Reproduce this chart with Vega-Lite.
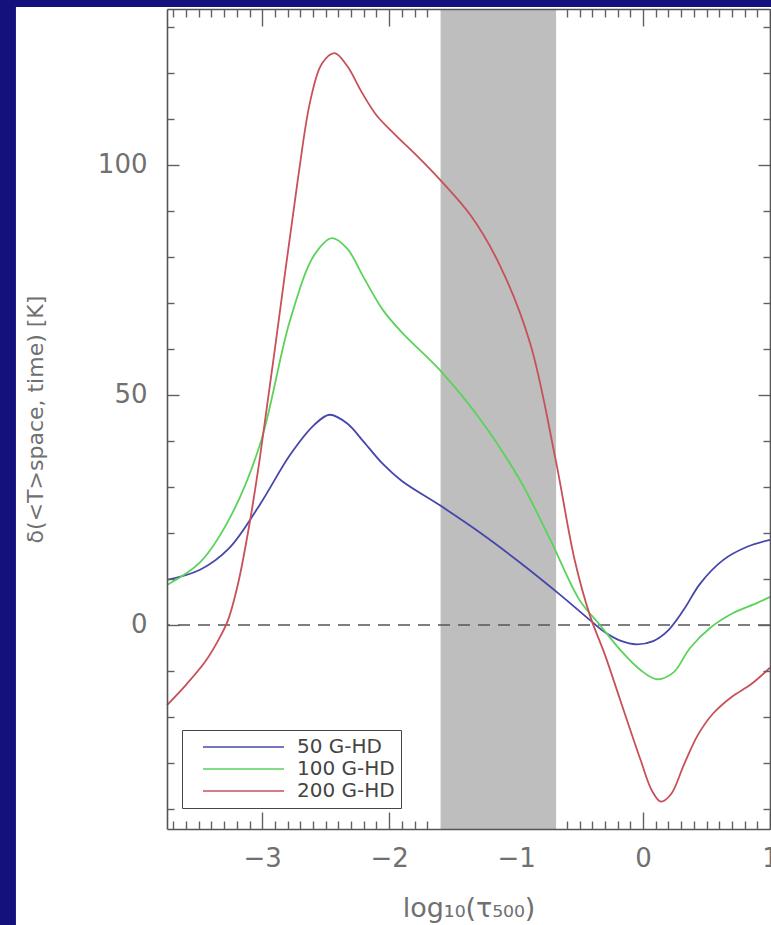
{
  "$schema": "https://vega.github.io/schema/vega-lite/v6.json",
  "autosize": {"type": "none"},
  "padding": {"left": 167, "top": 9, "right": 1, "bottom": 96},
  "width": 603,
  "height": 820,
  "background": "#14117c",
  "config": {
    "view": {"stroke": null},
    "axis": {"grid": false, "labelFont": "DejaVu Sans", "titleFont": "DejaVu Sans", "labelColor": "#707070", "titleColor": "#707070", "titleFontWeight": "normal", "domainColor": "#555555", "tickColor": "#606060", "domainWidth": 1.6, "tickWidth": 1.4, "labelFlush": false, "labelOverlap": false, "labelBound": false}
  },
  "datasets": {
    "curves": [
      {"x": -3.75, "dT": 9.8, "series": "50 G-HD"},
      {"x": -3.49, "dT": 12.0, "series": "50 G-HD"},
      {"x": -3.26, "dT": 16.7, "series": "50 G-HD"},
      {"x": -3.02, "dT": 26.1, "series": "50 G-HD"},
      {"x": -2.78, "dT": 37.0, "series": "50 G-HD"},
      {"x": -2.59, "dT": 43.5, "series": "50 G-HD"},
      {"x": -2.47, "dT": 45.7, "series": "50 G-HD"},
      {"x": -2.33, "dT": 43.8, "series": "50 G-HD"},
      {"x": -2.20, "dT": 39.8, "series": "50 G-HD"},
      {"x": -2.05, "dT": 35.0, "series": "50 G-HD"},
      {"x": -1.90, "dT": 31.3, "series": "50 G-HD"},
      {"x": -1.60, "dT": 26.0, "series": "50 G-HD"},
      {"x": -1.28, "dT": 20.0, "series": "50 G-HD"},
      {"x": -0.97, "dT": 13.6, "series": "50 G-HD"},
      {"x": -0.65, "dT": 6.5, "series": "50 G-HD"},
      {"x": -0.42, "dT": 1.1, "series": "50 G-HD"},
      {"x": -0.30, "dT": -1.6, "series": "50 G-HD"},
      {"x": -0.18, "dT": -3.4, "series": "50 G-HD"},
      {"x": -0.05, "dT": -4.2, "series": "50 G-HD"},
      {"x": 0.08, "dT": -3.5, "series": "50 G-HD"},
      {"x": 0.19, "dT": -1.4, "series": "50 G-HD"},
      {"x": 0.32, "dT": 3.3, "series": "50 G-HD"},
      {"x": 0.45, "dT": 9.0, "series": "50 G-HD"},
      {"x": 0.63, "dT": 14.1, "series": "50 G-HD"},
      {"x": 0.82, "dT": 17.0, "series": "50 G-HD"},
      {"x": 1.0, "dT": 18.5, "series": "50 G-HD"},
      {"x": -3.75, "dT": 8.7, "series": "100 G-HD"},
      {"x": -3.49, "dT": 13.6, "series": "100 G-HD"},
      {"x": -3.26, "dT": 23.0, "series": "100 G-HD"},
      {"x": -3.02, "dT": 39.0, "series": "100 G-HD"},
      {"x": -2.78, "dT": 66.3, "series": "100 G-HD"},
      {"x": -2.59, "dT": 80.4, "series": "100 G-HD"},
      {"x": -2.45, "dT": 84.1, "series": "100 G-HD"},
      {"x": -2.33, "dT": 81.8, "series": "100 G-HD"},
      {"x": -2.20, "dT": 75.5, "series": "100 G-HD"},
      {"x": -2.05, "dT": 68.5, "series": "100 G-HD"},
      {"x": -1.90, "dT": 63.6, "series": "100 G-HD"},
      {"x": -1.60, "dT": 55.4, "series": "100 G-HD"},
      {"x": -1.28, "dT": 44.6, "series": "100 G-HD"},
      {"x": -0.97, "dT": 31.5, "series": "100 G-HD"},
      {"x": -0.73, "dT": 18.5, "series": "100 G-HD"},
      {"x": -0.50, "dT": 5.4, "series": "100 G-HD"},
      {"x": -0.34, "dT": 0.0, "series": "100 G-HD"},
      {"x": -0.18, "dT": -5.4, "series": "100 G-HD"},
      {"x": -0.02, "dT": -9.8, "series": "100 G-HD"},
      {"x": 0.11, "dT": -11.8, "series": "100 G-HD"},
      {"x": 0.24, "dT": -10.3, "series": "100 G-HD"},
      {"x": 0.37, "dT": -5.0, "series": "100 G-HD"},
      {"x": 0.53, "dT": -0.6, "series": "100 G-HD"},
      {"x": 0.71, "dT": 2.6, "series": "100 G-HD"},
      {"x": 0.90, "dT": 4.8, "series": "100 G-HD"},
      {"x": 1.0, "dT": 6.1, "series": "100 G-HD"},
      {"x": -3.75, "dT": -17.4, "series": "200 G-HD"},
      {"x": -3.60, "dT": -13.0, "series": "200 G-HD"},
      {"x": -3.45, "dT": -8.0, "series": "200 G-HD"},
      {"x": -3.35, "dT": -3.5, "series": "200 G-HD"},
      {"x": -3.27, "dT": 1.0, "series": "200 G-HD"},
      {"x": -3.19, "dT": 9.0, "series": "200 G-HD"},
      {"x": -3.10, "dT": 22.0, "series": "200 G-HD"},
      {"x": -3.02, "dT": 36.0, "series": "200 G-HD"},
      {"x": -2.90, "dT": 60.0, "series": "200 G-HD"},
      {"x": -2.72, "dT": 96.7, "series": "200 G-HD"},
      {"x": -2.62, "dT": 114.1, "series": "200 G-HD"},
      {"x": -2.53, "dT": 122.0, "series": "200 G-HD"},
      {"x": -2.43, "dT": 124.3, "series": "200 G-HD"},
      {"x": -2.33, "dT": 121.5, "series": "200 G-HD"},
      {"x": -2.22, "dT": 116.0, "series": "200 G-HD"},
      {"x": -2.10, "dT": 110.8, "series": "200 G-HD"},
      {"x": -1.95, "dT": 106.5, "series": "200 G-HD"},
      {"x": -1.80, "dT": 102.5, "series": "200 G-HD"},
      {"x": -1.60, "dT": 96.8, "series": "200 G-HD"},
      {"x": -1.36, "dT": 89.1, "series": "200 G-HD"},
      {"x": -1.13, "dT": 78.3, "series": "200 G-HD"},
      {"x": -0.89, "dT": 61.3, "series": "200 G-HD"},
      {"x": -0.69, "dT": 36.1, "series": "200 G-HD"},
      {"x": -0.54, "dT": 14.3, "series": "200 G-HD"},
      {"x": -0.42, "dT": 2.2, "series": "200 G-HD"},
      {"x": -0.30, "dT": -6.5, "series": "200 G-HD"},
      {"x": -0.18, "dT": -16.3, "series": "200 G-HD"},
      {"x": -0.02, "dT": -29.3, "series": "200 G-HD"},
      {"x": 0.07, "dT": -36.0, "series": "200 G-HD"},
      {"x": 0.14, "dT": -38.4, "series": "200 G-HD"},
      {"x": 0.22, "dT": -36.8, "series": "200 G-HD"},
      {"x": 0.32, "dT": -30.5, "series": "200 G-HD"},
      {"x": 0.43, "dT": -24.0, "series": "200 G-HD"},
      {"x": 0.55, "dT": -19.3, "series": "200 G-HD"},
      {"x": 0.70, "dT": -15.6, "series": "200 G-HD"},
      {"x": 0.85, "dT": -12.9, "series": "200 G-HD"},
      {"x": 1.0, "dT": -9.3, "series": "200 G-HD"}
    ],
    "band": [{"from": -1.595, "to": -0.685}],
    "one": [{}]
  },
  "resolve": {"scale": {"x": "independent", "y": "independent", "color": "independent"}},
  "layer": [
    {
      "data": {"name": "one"},
      "mark": {"type": "rect", "fill": "white", "clip": false},
      "encoding": {
        "x": {"datum": -4.94, "type": "quantitative", "scale": {"domain": [-3.75, 1.0], "nice": false, "zero": false}, "axis": null},
        "x2": {"datum": 1.5},
        "y": {"datum": 134.35, "type": "quantitative", "scale": {"domain": [-44.35, 133.9], "nice": false, "zero": false}, "axis": null},
        "y2": {"datum": -90}
      }
    },
    {
      "data": {"name": "band"},
      "mark": {"type": "rect", "fill": "#bebebe"},
      "encoding": {
        "x": {"field": "from", "type": "quantitative", "scale": {"domain": [-3.75, 1.0], "nice": false, "zero": false}, "axis": null},
        "x2": {"field": "to"}
      }
    },
    {
      "data": {"name": "one"},
      "mark": {"type": "rule", "color": "#555555", "strokeWidth": 1.6, "strokeDash": [12, 8]},
      "encoding": {
        "y": {"datum": 0, "type": "quantitative", "scale": {"domain": [-44.35, 133.9], "nice": false, "zero": false}, "axis": null}
      }
    },
    {
      "data": {"name": "curves"},
      "mark": {"type": "line", "interpolate": "catmull-rom", "strokeWidth": 1.8},
      "encoding": {
        "x": {"field": "x", "type": "quantitative", "scale": {"domain": [-3.75, 1.0], "nice": false, "zero": false},
          "axis": {"orient": "bottom", "zindex": 1, "values": [-3, -2, -1, 0, 1], "format": "d", "ticks": false, "domain": true, "labelFontSize": 26, "labelPadding": 16, "title": "log₁₀(τ₅₀₀)", "titleFontSize": 27, "titlePadding": 24}},
        "y": {"field": "dT", "type": "quantitative", "scale": {"domain": [-44.35, 133.9], "nice": false, "zero": false},
          "axis": {"orient": "left", "zindex": 1, "values": [0, 50, 100], "format": "d", "ticks": false, "domain": true, "labelFontSize": 26, "labelPadding": 20, "title": "δ(<T>space, time) [K]", "titleFontSize": 22, "titlePadding": 50}},
        "color": {"field": "series", "type": "nominal",
          "scale": {"domain": ["50 G-HD", "100 G-HD", "200 G-HD"], "range": ["#4646ac", "#5ad35a", "#c8505a"]},
          "legend": {"orient": "none", "legendX": 15, "legendY": 721, "title": null, "strokeColor": "#444444", "fillColor": "white", "padding": 6, "symbolType": "stroke", "symbolSize": 6561, "symbolStrokeWidth": 1.6, "symbolOffset": 14, "labelOffset": 12, "clipHeight": 22, "rowPadding": 0, "labelFont": "DejaVu Sans", "labelFontSize": 20, "labelColor": "#444444", "cornerRadius": 0}},
        "sort": {"field": "x"}
      }
    },
    {
      "data": {"name": "curves"},
      "mark": {"type": "point", "opacity": 0},
      "encoding": {
        "x": {"field": "x", "type": "quantitative", "scale": {"domain": [-3.75, 1.0], "nice": false, "zero": false},
          "axis": {"orient": "bottom", "zindex": 1, "values": [-3, -2, 0, 1], "labels": false, "domain": false, "tickSize": -17, "title": null}},
        "y": {"field": "dT", "type": "quantitative", "scale": {"domain": [-44.35, 133.9], "nice": false, "zero": false},
          "axis": {"orient": "left", "zindex": 1, "values": [0, 50, 100], "labels": false, "domain": false, "tickSize": -12, "title": null}}
      }
    },
    {
      "data": {"name": "curves"},
      "mark": {"type": "point", "opacity": 0},
      "encoding": {
        "x": {"field": "x", "type": "quantitative", "scale": {"domain": [-3.75, 1.0], "nice": false, "zero": false},
          "axis": {"orient": "bottom", "zindex": 1, "values": [-3.7, -3.6, -3.5, -3.4, -3.3, -3.2, -3.1, -2.9, -2.8, -2.7, -2.6, -2.5, -2.4, -2.3, -2.2, -2.1, -1.9, -1.8, -1.7, -0.6, -0.5, -0.4, -0.3, -0.2, -0.1, 0.1, 0.2, 0.3, 0.4, 0.5, 0.6, 0.7, 0.8, 0.9], "labels": false, "domain": false, "tickSize": -8, "title": null}},
        "y": {"field": "dT", "type": "quantitative", "scale": {"domain": [-44.35, 133.9], "nice": false, "zero": false},
          "axis": {"orient": "left", "zindex": 1, "values": [-40, -30, -20, -10, 10, 20, 30, 40, 60, 70, 80, 90, 110, 120, 130], "labels": false, "domain": false, "tickSize": -7, "title": null}}
      }
    },
    {
      "data": {"name": "curves"},
      "mark": {"type": "point", "opacity": 0},
      "encoding": {
        "x": {"field": "x", "type": "quantitative", "scale": {"domain": [-3.75, 1.0], "nice": false, "zero": false},
          "axis": {"orient": "top", "zindex": 1, "values": [-3, -2, 0, 1], "labels": false, "domain": true, "tickSize": -17, "title": null}},
        "y": {"field": "dT", "type": "quantitative", "scale": {"domain": [-44.35, 133.9], "nice": false, "zero": false},
          "axis": {"orient": "right", "zindex": 1, "values": [0, 50, 100], "labels": false, "domain": true, "tickSize": -12, "title": null}}
      }
    },
    {
      "data": {"name": "curves"},
      "mark": {"type": "point", "opacity": 0},
      "encoding": {
        "x": {"field": "x", "type": "quantitative", "scale": {"domain": [-3.75, 1.0], "nice": false, "zero": false},
          "axis": {"orient": "top", "zindex": 1, "values": [-3.7, -3.6, -3.5, -3.4, -3.3, -3.2, -3.1, -2.9, -2.8, -2.7, -2.6, -2.5, -2.4, -2.3, -2.2, -2.1, -1.9, -1.8, -1.7, -0.6, -0.5, -0.4, -0.3, -0.2, -0.1, 0.1, 0.2, 0.3, 0.4, 0.5, 0.6, 0.7, 0.8, 0.9], "labels": false, "domain": false, "tickSize": -8, "title": null}},
        "y": {"field": "dT", "type": "quantitative", "scale": {"domain": [-44.35, 133.9], "nice": false, "zero": false},
          "axis": {"orient": "right", "zindex": 1, "values": [-40, -30, -20, -10, 10, 20, 30, 40, 60, 70, 80, 90, 110, 120, 130], "labels": false, "domain": false, "tickSize": -7, "title": null}}
      }
    }
  ]
}
